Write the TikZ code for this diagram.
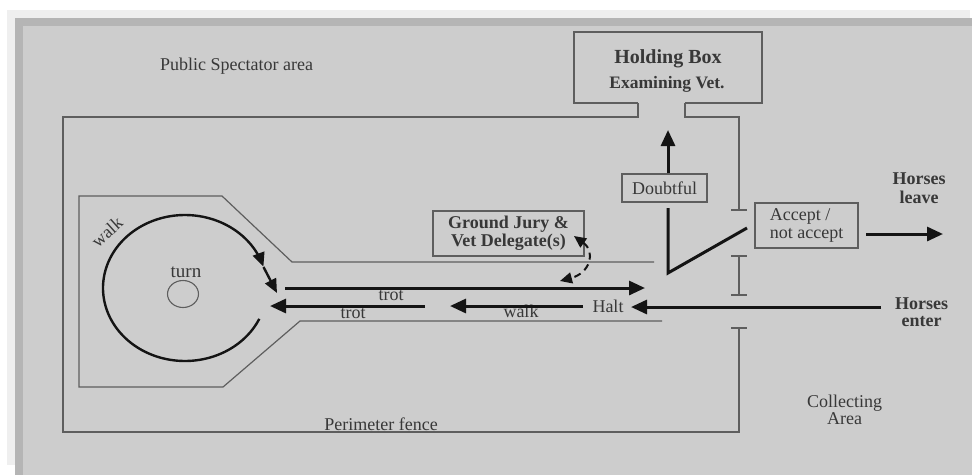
\documentclass[tikz,border=0pt]{standalone}
\usepackage{fontspec}
\setmainfont{Liberation Serif}
\usetikzlibrary{arrows.meta}
\definecolor{pagebg}{HTML}{FFFFFF}
\definecolor{shadelight}{HTML}{EFEFEF}
\definecolor{shadedark}{HTML}{B5B5B5}
\definecolor{mainbg}{HTML}{CDCDCD}
\definecolor{inkgray}{HTML}{383838}
\definecolor{fencegray}{HTML}{5E5E5E}
\definecolor{arrowink}{HTML}{141414}
\begin{document}
\begin{tikzpicture}[x=1pt,y=-1pt,
  fence/.style={draw=fencegray, line width=1.2pt},
  bigarrow/.style={draw=arrowink, line width=3pt, -{Triangle[length=16pt,width=14pt]}},
  plainink/.style={draw=arrowink, line width=3pt, line join=miter},
  arcline/.style={draw=arrowink, line width=2.4pt, -{Triangle[length=14pt,width=12pt]}},
  dasharrow/.style={draw=arrowink, line width=2pt, dash pattern=on 7pt off 5pt,
     {Triangle[length=12pt,width=11pt]}-{Triangle[length=12pt,width=11pt]}},
  lbl/.style={text=inkgray, font=\fontsize{18}{18}\selectfont, inner sep=0pt, anchor=base},
  blbl/.style={lbl, font=\fontsize{18}{18}\selectfont\bfseries},
  boxnode/.style={draw=fencegray, line width=1.2pt, text=inkgray, inner sep=0pt}]
% background and frame shading
\fill[pagebg] (0,0) rectangle (972,475);
\fill[shadelight] (7,10) rectangle (970,465);
\fill[shadedark] (15,18) rectangle (972,475);
\fill[mainbg] (23,26) rectangle (972,475);
\useasboundingbox (0,0) rectangle (972,475);

% holding box (open at the bottom)
\draw[fence] (638,103) -- (574,103) -- (574,32) -- (762,32) -- (762,103) -- (685,103);
\node[blbl, font=\fontsize{20}{20}\selectfont\bfseries] (holdA) at (668,63) {Holding Box};
\node[blbl, font=\fontsize{17.5}{18}\selectfont\bfseries] (holdB) at (667,88) {Examining Vet.};

% perimeter fence
\draw[fence] (638,103) -- (638,117) -- (63,117) -- (63,432) -- (739,432) -- (739,328);
\draw[fence] (731,328) -- (747,328);
\draw[fence] (685,103) -- (685,117) -- (739,117) -- (739,210);
\draw[fence] (731,210) -- (747,210);
\draw[fence] (739,256) -- (739,295);
\draw[fence] (731,256) -- (747,256);
\draw[fence] (731,295) -- (747,295);

% trot-up arena
\draw[fence] (654,262) -- (292,262) -- (222,196) -- (79,196) -- (79,387) -- (223,387) -- (300,321) -- (662,321);

% turn circle
\draw[draw=fencegray, line width=1.1pt] (183,294) ellipse [x radius=15.5, y radius=13.5];

% walk arc
\draw[arcline] plot[smooth, domain=25:343, samples=80] ({185+82*cos(\x)}, {288+73*sin(\x)});
\coordinate (arcEnd) at (263.5,267);
\coordinate (arcTip) at (277,293);
\draw[arcline] (arcEnd) -- (arcTip);

% labels in the arena
\node[lbl] (pub) at (236.5,70) {Public Spectator area};
\node[lbl, font=\fontsize{19}{19}\selectfont] (turn) at (186,277) {turn};
\node[lbl, anchor=center, rotate=42] (walkA) at (107,232) {walk};
\node[lbl] (trotA) at (391,300) {trot};
\node[lbl] (trotB) at (353,318) {trot};
\node[lbl] (walkB) at (521,317) {walk};
\node[lbl] (halt) at (608,312) {Halt};
\node[lbl] (perim) at (381,430) {Perimeter fence};
\node[lbl] (coll) at (844.5,407) {Collecting};
\node[lbl] (area) at (844.5,424) {Area};

% boxes
\node[boxnode, minimum width=151pt, minimum height=45pt, align=center,
      font=\fontsize{18}{18}\selectfont\bfseries] (jury) at (508.5,233.5) {Ground Jury \&\\Vet Delegate(s)};
\node[boxnode, minimum width=85pt, minimum height=28pt,
      font=\fontsize{18}{18}\selectfont] (dbt) at (664.5,188) {Doubtful};
\node[boxnode, minimum width=103pt, minimum height=45pt, align=left,
      font=\fontsize{18}{18}\selectfont] (acc) at (806.5,225.5) {Accept /\\not accept};

% horses leave / enter labels
\node[blbl] (leaveA) at (919,184) {Horses};
\node[blbl] (leaveB) at (919,203) {leave};
\node[blbl] (enterA) at (921.5,309) {Horses};
\node[blbl] (enterB) at (921.5,326) {enter};

% arrows
\coordinate (tAs) at (285,288);  \coordinate (tAe) at (645,288);
\coordinate (tBs) at (425,306);  \coordinate (tBe) at (270,306);
\coordinate (wBs) at (583,306);  \coordinate (wBe) at (450,306);
\coordinate (enS) at (881,307);  \coordinate (enE) at (631,307);
\coordinate (lvS) at (866,234);  \coordinate (lvE) at (943,234);
\coordinate (upE) at (668,130);
\coordinate (fnA) at (668,208);  \coordinate (fnB) at (668,273);  \coordinate (fnC) at (747,228);
\coordinate (dA) at (574,236);   \coordinate (dB) at (560,281);

\draw[bigarrow] (tAs) -- (tAe);
\draw[bigarrow] (tBs) -- (tBe);
\draw[bigarrow] (wBs) -- (wBe);
\draw[bigarrow] (enS) -- (enE);
\draw[bigarrow] (lvS) -- (lvE);
\draw[bigarrow] (dbt.north -| upE) -- (upE);
\draw[plainink] (fnA) -- (fnB) -- (fnC);
\draw[dasharrow] (dA) .. controls (596,252) and (590,273) .. (dB);
\end{tikzpicture}
\end{document}
